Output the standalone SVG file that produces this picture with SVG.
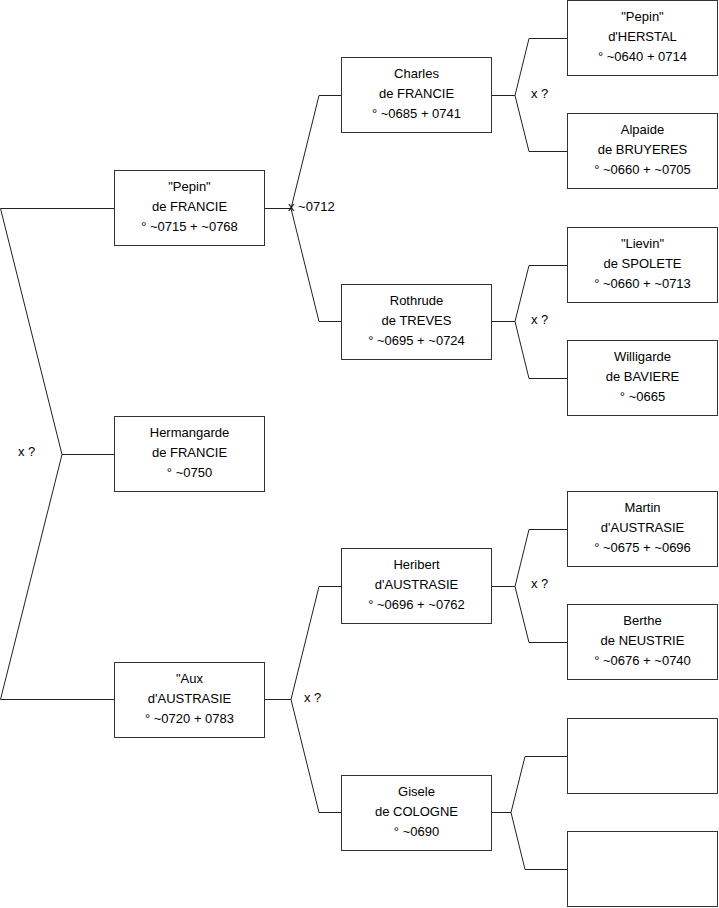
<svg xmlns="http://www.w3.org/2000/svg" width="719" height="908" viewBox="0 0 719 908">
<style>
.b{fill:#fff;stroke:#333;stroke-width:1}
.t{font-family:"Liberation Sans",Arial,sans-serif;font-size:13px;fill:#000;text-anchor:middle}
.l{font-family:"Liberation Sans",Arial,sans-serif;font-size:13px;fill:#000}
.c{fill:none;stroke:#222;stroke-width:1}
</style>
<rect width="719" height="908" fill="#fff"/>
<g id="connectors">
<polyline class="c" points="114,208.5 0.5,208.5 62,454.5 0.5,699.5 114,699.5"/>
<line class="c" x1="62" y1="454.5" x2="114" y2="454.5"/>
<polyline class="c" points="341,95.5 319,95.5 291,208.5 319,321.5 341,321.5"/>
<line class="c" x1="264" y1="208.5" x2="291" y2="208.5"/>
<polyline class="c" points="341,586.5 319,586.5 291,699.5 319,812.5 341,812.5"/>
<line class="c" x1="264" y1="699.5" x2="291" y2="699.5"/>
<polyline class="c" points="567,38.5 529,38.5 515,95.5 529,151.5 567,151.5"/>
<line class="c" x1="492" y1="95.5" x2="515" y2="95.5"/>
<polyline class="c" points="567,265.5 529,265.5 515,321.5 529,378.5 567,378.5"/>
<line class="c" x1="492" y1="321.5" x2="515" y2="321.5"/>
<polyline class="c" points="567,529.5 529,529.5 515,586.5 529,642.5 567,642.5"/>
<line class="c" x1="492" y1="586.5" x2="515" y2="586.5"/>
<polyline class="c" points="567,756.5 525,756.5 511,812.5 525,869.5 567,869.5"/>
<line class="c" x1="492" y1="812.5" x2="511" y2="812.5"/>
<text class="l" x="18" y="456">x ?</text>
<text class="l" x="288" y="211">x ~0712</text>
<text class="l" x="304" y="702">x ?</text>
<text class="l" x="531" y="98">x ?</text>
<text class="l" x="531" y="324">x ?</text>
<text class="l" x="531" y="588">x ?</text>
</g>
<g id="n1"><rect class="b" x="114.5" y="170.5" width="150" height="75"/><text class="t" x="189.5" y="191">"Pepin"</text><text class="t" x="189.5" y="211">de FRANCIE</text><text class="t" x="189.5" y="231">° ~0715 + ~0768</text></g>
<g id="n2"><rect class="b" x="114.5" y="416.5" width="150" height="75"/><text class="t" x="189.5" y="437">Hermangarde</text><text class="t" x="189.5" y="457">de FRANCIE</text><text class="t" x="189.5" y="477">° ~0750</text></g>
<g id="n3"><rect class="b" x="114.5" y="662.5" width="150" height="75"/><text class="t" x="189.5" y="683">"Aux</text><text class="t" x="189.5" y="703">d'AUSTRASIE</text><text class="t" x="189.5" y="723">° ~0720 + 0783</text></g>
<g id="n4"><rect class="b" x="341.5" y="57.5" width="150" height="75"/><text class="t" x="416.5" y="78">Charles</text><text class="t" x="416.5" y="98">de FRANCIE</text><text class="t" x="416.5" y="118">° ~0685 + 0741</text></g>
<g id="n5"><rect class="b" x="341.5" y="284.5" width="150" height="75"/><text class="t" x="416.5" y="305">Rothrude</text><text class="t" x="416.5" y="325">de TREVES</text><text class="t" x="416.5" y="345">° ~0695 + ~0724</text></g>
<g id="n6"><rect class="b" x="341.5" y="548.5" width="150" height="75"/><text class="t" x="416.5" y="569">Heribert</text><text class="t" x="416.5" y="589">d'AUSTRASIE</text><text class="t" x="416.5" y="609">° ~0696 + ~0762</text></g>
<g id="n7"><rect class="b" x="341.5" y="775.5" width="150" height="75"/><text class="t" x="416.5" y="796">Gisele</text><text class="t" x="416.5" y="816">de COLOGNE</text><text class="t" x="416.5" y="836">° ~0690</text></g>
<g id="n8"><rect class="b" x="567.5" y="0.5" width="150" height="75"/><text class="t" x="642.5" y="21">"Pepin"</text><text class="t" x="642.5" y="41">d'HERSTAL</text><text class="t" x="642.5" y="61">° ~0640 + 0714</text></g>
<g id="n9"><rect class="b" x="567.5" y="113.5" width="150" height="75"/><text class="t" x="642.5" y="134">Alpaide</text><text class="t" x="642.5" y="154">de BRUYERES</text><text class="t" x="642.5" y="174">° ~0660 + ~0705</text></g>
<g id="n10"><rect class="b" x="567.5" y="227.5" width="150" height="75"/><text class="t" x="642.5" y="248">"Lievin"</text><text class="t" x="642.5" y="268">de SPOLETE</text><text class="t" x="642.5" y="288">° ~0660 + ~0713</text></g>
<g id="n11"><rect class="b" x="567.5" y="340.5" width="150" height="75"/><text class="t" x="642.5" y="361">Willigarde</text><text class="t" x="642.5" y="381">de BAVIERE</text><text class="t" x="642.5" y="401">° ~0665</text></g>
<g id="n12"><rect class="b" x="567.5" y="491.5" width="150" height="75"/><text class="t" x="642.5" y="512">Martin</text><text class="t" x="642.5" y="532">d'AUSTRASIE</text><text class="t" x="642.5" y="552">° ~0675 + ~0696</text></g>
<g id="n13"><rect class="b" x="567.5" y="604.5" width="150" height="75"/><text class="t" x="642.5" y="625">Berthe</text><text class="t" x="642.5" y="645">de NEUSTRIE</text><text class="t" x="642.5" y="665">° ~0676 + ~0740</text></g>
<g id="n14"><rect class="b" x="567.5" y="718.5" width="150" height="75"/></g>
<g id="n15"><rect class="b" x="567.5" y="831.5" width="150" height="75"/></g>
</svg>
